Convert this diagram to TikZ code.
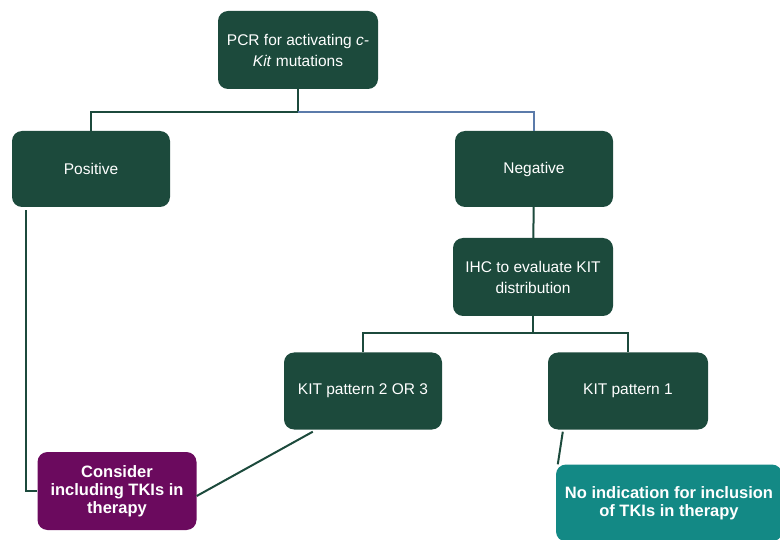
\documentclass[tikz,border=0pt]{standalone}
\usepackage{fontspec}
\setmainfont{Liberation Sans}
\definecolor{boxgreen}{HTML}{1C4A3C}
\definecolor{boxpurple}{HTML}{6B0A5E}
\definecolor{boxteal}{HTML}{138985}
\definecolor{linkblue}{HTML}{5B7BAA}
\tikzset{
  stepbox/.style={rounded corners=10pt,fill=boxgreen,text=white,align=center,
    font=\fontsize{15.5}{21}\selectfont,inner sep=0pt},
  endbox/.style={stepbox,font=\fontsize{16.5}{18}\selectfont\bfseries},
  link/.style={draw=boxgreen,line width=2pt}
}
\begin{document}
\begin{tikzpicture}[x=1pt,y=-1pt]
  \useasboundingbox (0,0) rectangle (780,540);

  \node (pcr) at (298,50) [stepbox,minimum width=160,minimum height=78]{PCR for activating \textit{c-}\\\textit{Kit} mutations};
  \node (pos) at (91,169) [stepbox,minimum width=158,minimum height=76]{Positive};
  \node (neg) at (534,169) [stepbox,minimum width=158,minimum height=76]{Negative};
  \node (ihc) at (533,277) [stepbox,minimum width=160,minimum height=78]{IHC to evaluate KIT\\distribution};
  \node (kitb) at (363,391) [stepbox,minimum width=158,minimum height=77]{KIT pattern 2 OR 3};
  \node (kita) at (628,391) [stepbox,minimum width=160,minimum height=77]{KIT pattern 1};
  \node (tki) at (117,491) [endbox,fill=boxpurple,minimum width=159,minimum height=78]{Consider\\including TKIs in\\therapy};
  \node (noind) at (669,503) [endbox,fill=boxteal,minimum width=226,minimum height=77]{No indication for inclusion\\of TKIs in therapy};

  \coordinate (split1) at (298,112);
  \coordinate (split2) at (533,333);

  \draw[link] (pcr) -- (split1) -| (pos);
  \draw[link,draw=linkblue] (split1) -| (neg);
  \draw[link] (neg) -- (ihc);
  \draw[link] (ihc) -- (split2);
  \draw[link] (split2) -| (kitb);
  \draw[link] (split2) -| (kita);

  \draw[link] ([xshift=14pt,yshift=-3pt]pos.south west) |- (tki);
  \draw[link] ([xshift=29pt,yshift=-2pt]kitb.south west) -- ([yshift=-5pt]tki.east);
  \draw[link] ([xshift=15pt,yshift=-2pt]kita.south west) -- ([xshift=2pt]noind.north west);

\end{tikzpicture}
\end{document}
